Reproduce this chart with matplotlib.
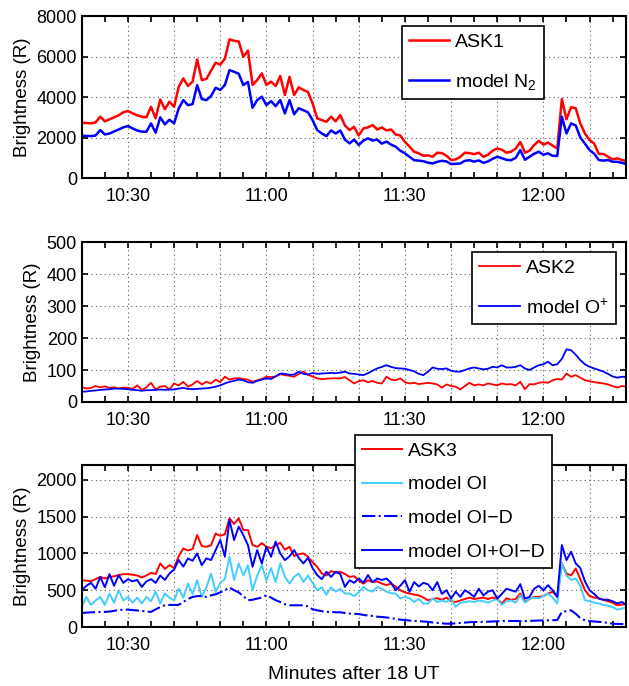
import matplotlib
matplotlib.use("Agg")
import matplotlib.pyplot as plt
import numpy as np
from matplotlib.ticker import MultipleLocator, FuncFormatter

plt.rcParams['font.family'] = ['Liberation Sans', 'DejaVu Sans']
plt.rcParams['mathtext.default'] = 'regular'
plt.rcParams['font.size'] = 13

# time axis: one sample per minute, 10:20 .. 12:18 (minutes of day)
START = 620

# --- panel 1: ASK1 vs model N2 ---
ask1 = [2730, 2720, 2700, 2750, 3030, 2800, 2900, 3000, 3100, 3250,
        3310, 3200, 3100, 3030, 3000, 3520, 2950, 3880, 3400, 3770,
        3520, 4510, 4920, 4550, 4760, 5860, 4840, 4900, 5300, 5700,
        5600, 5900, 6850, 6780, 6750, 5990, 6300, 4600, 4840, 5170,
        4600, 4760, 4550, 5040, 4100, 5000, 4100, 4480, 4350, 4250,
        3690, 2950, 2860, 2780, 3030, 2800, 3110, 2600, 2370, 2530,
        2100, 2450, 2500, 2620, 2400, 2500, 2350, 2400, 2150, 2100,
        1790, 1550, 1300, 1220, 1100, 1120, 1050, 1250, 1230, 1100,
        890, 920, 1050, 1250, 1230, 1180, 1250, 1050, 1150, 1350,
        1460, 1400, 1250, 1300, 1450, 1780, 1250, 1350, 1630, 1840,
        1650, 1750, 1600, 1460, 3900, 2900, 3500, 3450, 2700, 2200,
        1880, 1700, 1190, 1190, 1050, 920, 970, 890, 850]
model_n2 = [2090, 2080, 2070, 2100, 2370, 2150, 2200, 2300, 2400, 2500,
            2570, 2450, 2350, 2290, 2290, 2700, 2240, 3000, 2650, 2880,
            2700, 3440, 3850, 3600, 3650, 4590, 3900, 3850, 4050, 4460,
            4350, 4600, 5330, 5250, 5150, 4590, 4750, 3470, 3850, 4020,
            3600, 3800, 3550, 3850, 3190, 3850, 3150, 3450, 3350, 3250,
            2860, 2370, 2200, 2070, 2350, 2200, 2350, 1900, 1710, 1900,
            1630, 1850, 1960, 1850, 1900, 1700, 1800, 1650, 1550, 1350,
            1220, 1050, 880, 860, 830, 760, 720, 800, 850, 820,
            690, 700, 720, 850, 880, 810, 870, 750, 820, 950,
            1050, 980, 900, 880, 1000, 1380, 900, 1050, 1200, 1300,
            1150, 1220, 1100, 1090, 3030, 2200, 2700, 2600, 2000, 1700,
            1380, 1200, 890, 860, 890, 800, 800, 750, 690]

# --- panel 2: ASK2 vs model O+ ---
ask2 = [47, 42, 44, 50, 46, 49, 44, 46, 42, 45,
        44, 41, 52, 38, 46, 60, 39, 48, 50, 39,
        58, 52, 63, 48, 55, 66, 55, 63, 58, 70,
        62, 79, 70, 74, 74, 72, 70, 63, 68, 72,
        79, 78, 80, 87, 84, 82, 79, 88, 95, 85,
        80, 74, 71, 73, 74, 74, 74, 78, 68, 58,
        65, 68, 62, 66, 60, 58, 79, 70, 68, 74,
        62, 58, 60, 56, 58, 60, 58, 55, 45, 55,
        50, 48, 39, 50, 60, 52, 55, 52, 58, 55,
        52, 58, 55, 56, 52, 63, 40, 56, 55, 60,
        62, 60, 68, 72, 70, 89, 79, 84, 76, 68,
        65, 62, 60, 58, 55, 50, 45, 50, 48]
model_oplus = [32, 33, 35, 36, 38, 39, 40, 42, 42, 41,
               40, 38, 37, 35, 37, 37, 38, 39, 38, 39,
               39, 42, 44, 41, 40, 41, 42, 43, 45, 48,
               52, 58, 63, 66, 70, 68, 62, 60, 66, 70,
               74, 72, 80, 89, 88, 85, 86, 95, 88, 86,
               91, 88, 89, 90, 91, 90, 92, 95, 89, 88,
               86, 84, 90, 98, 105, 110, 115, 110, 106, 105,
               104, 100, 96, 88, 84, 95, 108, 104, 103, 105,
               98, 95, 95, 100, 105, 108, 105, 102, 104, 110,
               108, 115, 108, 108, 110, 115, 105, 100, 108, 115,
               118, 126, 115, 118, 135, 165, 162, 148, 131, 118,
               110, 105, 100, 95, 88, 80, 76, 79, 78]

# --- panel 3: ASK3 vs model OI components ---
ask3 = [636, 630, 623, 650, 680, 660, 680, 690, 705, 718,
        718, 710, 700, 673, 700, 736, 720, 864, 790, 840,
        800, 964, 1068, 1040, 1060, 1250, 1100, 1090, 1110, 1270,
        1240, 1260, 1477, 1400, 1477, 1318, 1318, 1113, 1090, 1140,
        1090, 1070, 1110, 1145, 1050, 1090, 964, 990, 1000, 955,
        880, 818, 727, 700, 760, 740, 750, 720, 680, 690,
        630, 590, 636, 610, 620, 590, 570, 590, 550, 500,
        470, 455, 440, 430, 400, 364, 380, 390, 370, 400,
        350, 341, 360, 380, 400, 380, 390, 400, 380, 400,
        380, 318, 390, 370, 380, 455, 340, 380, 410, 410,
        420, 455, 480, 410, 864, 727, 700, 795, 650, 500,
        420, 400, 390, 370, 350, 330, 295, 305, 310]
model_oi = [273, 409, 300, 360, 409, 300, 455, 330, 500, 360,
            409, 330, 400, 320, 409, 350, 480, 320, 455, 400,
            360, 523, 400, 590, 450, 636, 410, 540, 727, 480,
            600, 650, 955, 640, 864, 700, 841, 500, 700, 841,
            630, 800, 610, 864, 680, 590, 680, 727, 610, 700,
            600, 500, 540, 440, 540, 480, 520, 455, 455, 420,
            470, 545, 500, 480, 545, 520, 480, 460, 455, 390,
            409, 390, 341, 380, 318, 320, 390, 340, 360, 340,
            380, 273, 330, 340, 350, 340, 360, 350, 330, 360,
            380, 300, 350, 360, 330, 432, 330, 380, 400, 390,
            420, 455, 400, 318, 864, 700, 640, 659, 560, 364,
            350, 330, 320, 300, 290, 270, 236, 250, 270]
model_oid = [191, 195, 200, 200, 205, 205, 210, 220, 230, 236,
             236, 230, 225, 220, 210, 205, 240, 270, 295, 300,
             300, 300, 340, 380, 409, 420, 420, 409, 430, 445,
             470, 500, 536, 500, 470, 420, 364, 370, 386, 400,
             432, 400, 364, 340, 310, 295, 295, 295, 295, 280,
             240, 227, 215, 205, 205, 200, 200, 190, 182, 180,
             175, 165, 155, 150, 140, 136, 130, 120, 110, 100,
             95, 88, 82, 78, 75, 70, 62, 55, 50, 45,
             45, 50, 55, 60, 65, 68, 68, 70, 72, 75,
             78, 80, 82, 82, 82, 80, 80, 82, 85, 88,
             90, 91, 92, 95, 205, 215, 227, 180, 120, 91,
             80, 75, 70, 65, 55, 45, 42, 40, 36]
model_oi_oid = [500, 560, 600, 520, 680, 540, 718, 560, 705, 600,
                650, 620, 640, 545, 620, 650, 600, 700, 640, 727,
                780, 909, 820, 932, 900, 1000, 840, 932, 910, 1045,
                1182, 955, 1454, 1182, 1364, 1250, 1113, 818, 1045, 864,
                1090, 955, 1160, 1000, 909, 960, 1045, 940, 864, 940,
                800, 705, 650, 750, 680, 750, 720, 545, 636, 600,
                659, 600, 705, 610, 659, 640, 659, 600, 500, 560,
                636, 480, 610, 550, 600, 580, 500, 610, 450, 500,
                386, 480, 410, 500, 460, 410, 520, 430, 480, 500,
                386, 450, 520, 500, 480, 582, 386, 410, 520, 560,
                500, 568, 500, 409, 1114, 909, 1023, 864, 800, 620,
                500, 450, 386, 370, 370, 350, 320, 340, 300]

RED = (1, 0, 0)
BLUE = (0, 0, 1)
CYAN = "#44ccff"


def minutes(series):
    return START + np.arange(len(series))


def hhmm(v, pos):
    v = int(round(v))
    if v % 30:
        return ""
    return f"{v // 60}:{v % 60:02d}"


def style(ax, ymax, ystep):
    ax.set_xlim(620, 738)
    ax.set_ylim(0, ymax)
    ax.xaxis.set_major_locator(MultipleLocator(10))
    ax.xaxis.set_minor_locator(MultipleLocator(5))
    ax.xaxis.set_major_formatter(FuncFormatter(hhmm))
    ax.yaxis.set_major_locator(MultipleLocator(ystep))
    ax.tick_params(which="both", direction="in", top=True, right=True,
                   length=4, width=1.2, labelsize=13)
    ax.tick_params(axis="x", pad=7)
    ax.grid(True, which="major", linestyle=(0, (1, 3)), color="0.35", linewidth=0.8)
    for s in ax.spines.values():
        s.set_linewidth(1.5)
    ax.set_ylabel("Brightness (R)", fontsize=13.5)


def legend(ax, anchor, spacing):
    leg = ax.legend(loc="upper right", bbox_to_anchor=anchor, borderaxespad=0,
                    fancybox=False, edgecolor="k", framealpha=1, fontsize=14,
                    handlelength=2.1, handletextpad=0.3, labelspacing=spacing,
                    borderpad=0.35)
    leg.get_frame().set_linewidth(1.2)
    leg.set_zorder(10)
    return leg


fig = plt.figure(figsize=(6.29, 6.86), dpi=100)
ax1 = fig.add_axes([0.130, 0.7405, 0.866, 0.236])
ax2 = fig.add_axes([0.130, 0.414, 0.866, 0.233])
ax3 = fig.add_axes([0.130, 0.086, 0.866, 0.236])

ax1.plot(minutes(ask1), ask1, color=RED, lw=1.8, label="ASK1")
ax1.plot(minutes(model_n2), model_n2, color=BLUE, lw=1.8, label="model N$_2$")
style(ax1, 8000, 2000)
legend(ax1, (0.848, 0.938), 1.1)

ax2.plot(minutes(ask2), ask2, color=RED, lw=1.3, label="ASK2")
ax2.plot(minutes(model_oplus), model_oplus, color=BLUE, lw=1.3, label="model O$^{+}$")
style(ax2, 500, 100)
legend(ax2, (0.980, 0.9375), 1.1)

ax3.plot(minutes(ask3), ask3, color=RED, lw=1.4, label="ASK3")
ax3.plot(minutes(model_oi), model_oi, color=CYAN, lw=1.4, label="model OI")
ax3.plot(minutes(model_oid), model_oid, color=BLUE, lw=1.5, ls="-.", label="model OI\u2212D")
ax3.plot(minutes(model_oi_oid), model_oi_oid, color=BLUE, lw=1.4, label="model OI+OI\u2212D")
style(ax3, 2200, 500)
legend(ax3, (0.863, 1.185), 0.83)
ax3.set_xlabel("Minutes after 18 UT", fontsize=14, labelpad=9)

fig.savefig("out.png", dpi=100)
